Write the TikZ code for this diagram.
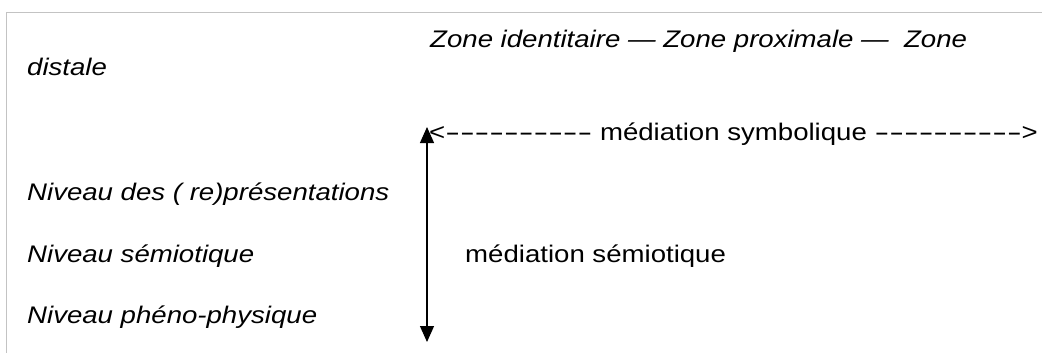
\documentclass[tikz,border=0pt]{standalone}
\usepackage{fontspec}
\setmainfont{Liberation Sans}[FakeStretch=1.15]
\usepackage{xcolor}
\usepackage{graphicx}
\usepackage{tikz}
\usetikzlibrary{arrows.meta}
\definecolor{GrisCadre}{RGB}{195,195,195}
\newcommand{\tirets}[1]{\foreach \k in {1,...,#1}{\scalebox{1.6}[1]{-}}}

\begin{document}
\begin{tikzpicture}[x=1pt,y=-1pt,>={Triangle[length=16pt,width=14pt]},
  texte/.style={anchor=base west,inner sep=0pt,font=\fontsize{24}{28}\selectfont\itshape},
  droit/.style={texte,font=\fontsize{24}{28}\selectfont\upshape}]
  \useasboundingbox (0,0) rectangle (1042,353);
  % cadre
  \draw[GrisCadre,line width=1pt] (6.5,353)--(6.5,12.5)--(1042,12.5);
  % zones
  \node[texte] (zones) at (430,48) {Zone identitaire — Zone proximale —\ \ Zone};
  \node[texte] (distale) at (27,76) {distale};
  % niveaux
  \node[texte] (repr) at (27,200) {Niveau des ( re)présentations};
  \node[texte] (semniv) at (27,262) {Niveau sémiotique};
  \node[texte] (pheno) at (27,323) {Niveau phéno-physique};
  % mediations
  \coordinate (haut) at (427,127);
  \coordinate (bas) at (427,342);
  \draw[<->,line width=1.2pt] (haut)--(bas);
  \node[droit] (symb) at (429,140) {<\tirets{10} médiation symbolique \tirets{10}>};
  \node[droit] (semio) at (465,262) {médiation sémiotique};
\end{tikzpicture}
\end{document}
